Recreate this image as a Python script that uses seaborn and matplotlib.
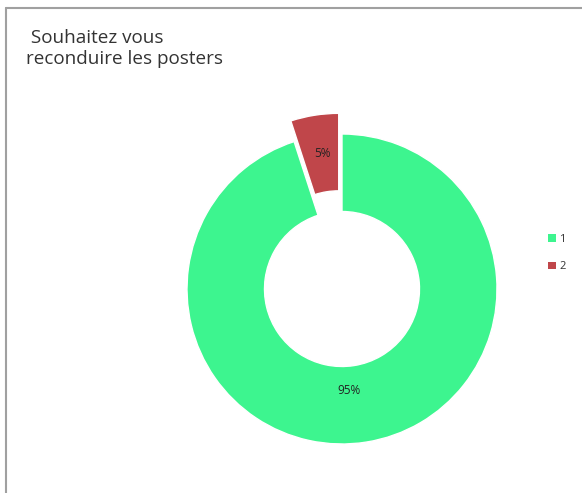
import matplotlib
matplotlib.use("Agg")
import matplotlib.pyplot as plt
import seaborn as sns
from matplotlib.lines import Line2D
from matplotlib.patches import Patch

sns.set_theme(style="white")
plt.rcParams['font.family'] = ['Open Sans', 'DejaVu Sans']

# Data
categories = ["1", "2"]
values = [95, 5]
colors = ["#3DF58F", "#C0464A"]
title = " Souhaitez vous\nreconduire les posters"

W, H = 582, 493
fig = plt.figure(figsize=(W / 100, H / 100), dpi=100)
fig.patch.set_facecolor("white")

# frame lines (top and left)
fig.add_artist(Line2D([6 / W, 1], [1 - 8 / H, 1 - 8 / H], color="#a0a0a0", lw=1.5))
fig.add_artist(Line2D([6 / W, 6 / W], [0, 1 - 8 / H], color="#a0a0a0", lw=1.5))

cx, cy, R = 342, 289, 155
lim = 1.5
side = 2 * lim * R
ax = fig.add_axes([(cx - side / 2) / W, (H - cy - side / 2) / H, side / W, side / H])

wedges, texts, autotexts = ax.pie(
    values,
    colors=colors,
    startangle=90,
    counterclock=False,
    explode=[0, 0.135],
    autopct="%d%%",
    pctdistance=0.66,
    radius=1.0,
    wedgeprops=dict(width=0.5, edgecolor="white", linewidth=1),
    textprops=dict(fontsize=8.5, color="#222222"),
)
px, py = autotexts[0].get_position()
autotexts[0].set_position((px - 0.058, py))
px, py = autotexts[1].get_position()
autotexts[1].set_position((px - 0.005, py + 0.09))
ax.set_xlim(-lim, lim)
ax.set_ylim(-lim, lim)
ax.set_aspect("equal")
ax.axis("off")

fig.text(26 / W, 1 - 29 / H, title, fontsize=13.6, color="#333333", ha="left", va="top",
         linespacing=1.22)

handles = [Patch(facecolor=c, edgecolor="none") for c in colors]
fig.legend(handles, categories, loc="center left", bbox_to_anchor=(538 / W, 1 - 253 / H),
           frameon=False, fontsize=8, handlelength=0.7, handleheight=0.7,
           handletextpad=0.3, labelspacing=1.5, labelcolor="#333333")

fig.savefig("out.png", dpi=100, facecolor="white")
